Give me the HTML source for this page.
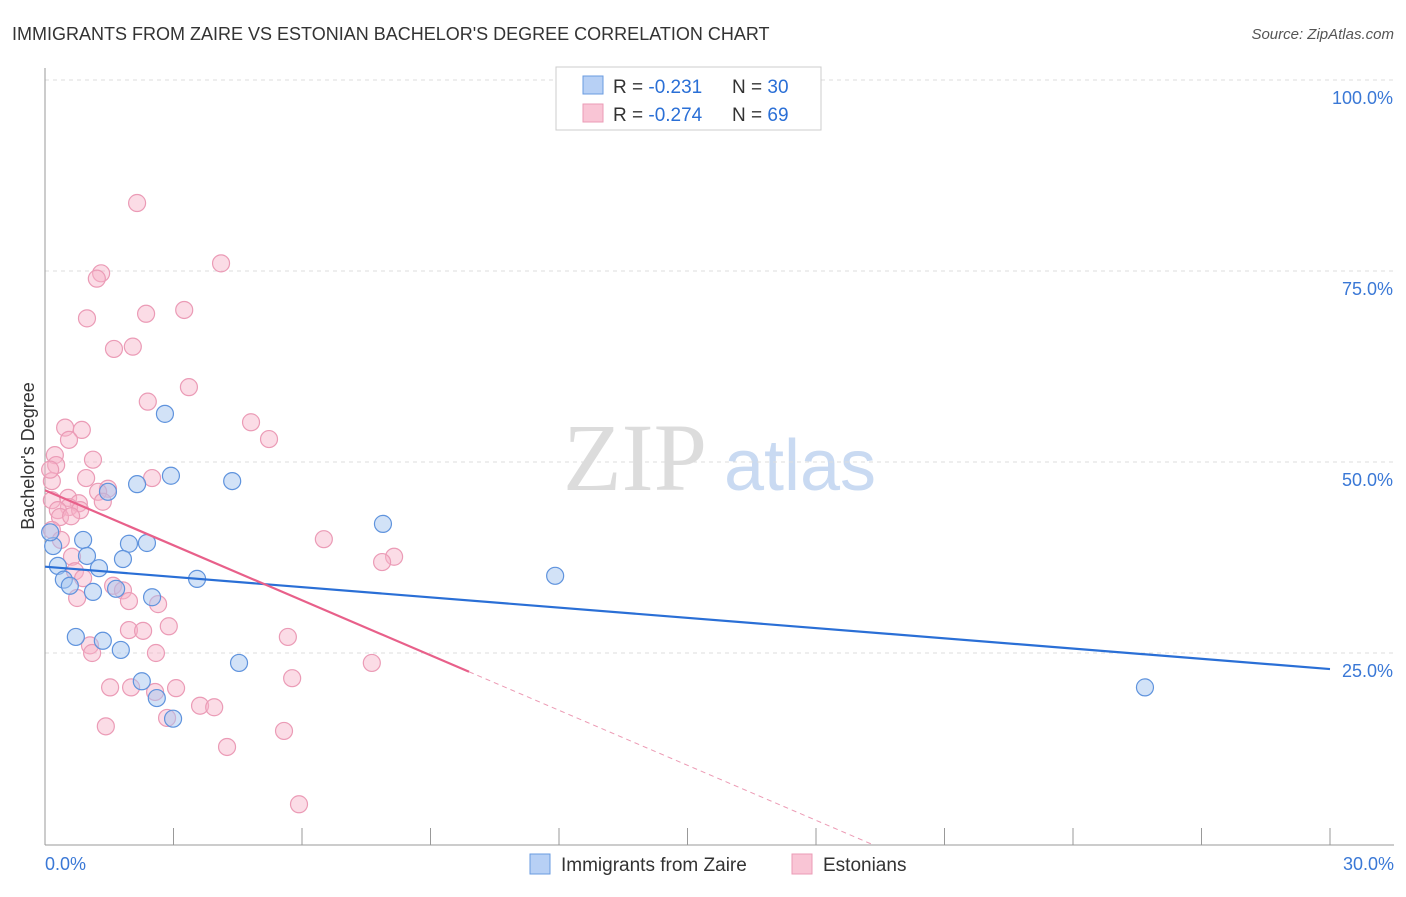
<!DOCTYPE html>
<html><head><meta charset="utf-8"><style>
body{margin:0;background:#fff;font-family:"Liberation Sans",sans-serif;}
#c{position:relative;width:1406px;height:892px;}
</style></head><body>
<div id="c">
<svg id="s" width="1406" height="892" xmlns="http://www.w3.org/2000/svg" font-family="Liberation Sans, sans-serif"></svg>
</div>
<script>
const blueX=[2.80,2.94,4.37,2.15,1.47,7.89,0.89,1.96,2.38,0.19,0.98,1.82,1.26,0.30,0.44,0.58,1.12,1.66,2.50,3.55,11.91,0.72,1.35,1.77,4.53,2.26,2.61,2.99,25.68,0.12];
const blueY=[56.3,48.2,47.5,47.1,46.1,41.9,39.8,39.3,39.4,39.0,37.7,37.3,36.1,36.4,34.6,33.8,33.0,33.4,32.3,34.7,35.1,27.1,26.6,25.4,23.7,21.3,19.1,16.4,20.5,40.8];
const pinkX=[2.15,4.11,1.31,1.21,0.98,2.36,3.25,1.61,2.05,3.36,2.40,4.81,5.23,0.47,0.86,0.56,1.12,0.23,0.26,2.50,0.96,0.16,1.47,1.24,0.54,0.16,0.79,1.35,0.56,0.30,0.82,0.35,0.61,0.16,0.37,0.63,0.70,1.59,0.89,1.82,1.96,2.64,0.75,6.51,8.15,7.87,2.89,1.96,2.29,1.05,1.10,2.59,5.67,7.63,5.77,1.52,2.01,2.57,3.06,3.62,3.95,2.85,1.42,4.25,5.58,5.93,0.12];
const pinkY=[83.9,76.0,74.7,74.0,68.8,69.4,69.9,64.8,65.1,59.8,57.9,55.2,53.0,54.5,54.2,52.9,50.3,50.9,49.6,47.9,47.9,47.5,46.5,46.1,45.3,45.0,44.6,44.8,44.1,43.7,43.7,42.8,42.9,41.1,39.8,37.6,35.7,33.8,34.8,33.2,31.8,31.4,32.2,39.9,37.6,36.9,28.5,28.0,27.9,26.0,25.0,25.0,27.1,23.7,21.7,20.5,20.5,19.9,20.4,18.1,17.9,16.5,15.4,12.7,14.8,5.2,49.0];
const blueTrend=[36.3,22.9];   // y at x=0 and x=30
const pinkTrend=[46.3,-2.4];   // intercept, slope
const yTicks=[25,50,75,100];
const yTickLabels=["25.0%","50.0%","75.0%","100.0%"];
const xTicks=[0,3,6,9,12,15,18,21,24,27,30];

const NS="http://www.w3.org/2000/svg";
const s=document.getElementById('s');
const X=v=>45+v/30*1285;
const Y=v=>844-v/100*764;
function mk(t,a,txt){const e=document.createElementNS(NS,t);for(const k in a)e.setAttribute(k,a[k]);if(txt!==undefined)e.textContent=txt;s.appendChild(e);return e;}

let e;
e=mk('text',{x:12,y:40,'font-size':18,fill:'#333'},"IMMIGRANTS FROM ZAIRE VS ESTONIAN BACHELOR'S DEGREE CORRELATION CHART");

e=mk('text',{x:1394,y:39,'font-size':15,fill:'#555','font-style':'italic','text-anchor':'end'},"Source: ZipAtlas.com");


// watermark
e=mk('text',{x:635,y:490,'font-size':96,fill:'#dcdcdc','font-family':'Liberation Serif, serif','text-anchor':'middle'},"ZIP");

e=mk('text',{x:800,y:490,'font-size':72,fill:'#c9daf2','text-anchor':'middle'},"atlas");


// grid
e=mk('line',{x1:45,y1:Y(100),x2:1394,y2:Y(100),stroke:'#ddd','stroke-dasharray':'4,4'});

yTicks.forEach((t,i)=>{
 const g=mk('line',{x1:45,y1:Y(t),x2:1394,y2:Y(t),stroke:'#ddd','stroke-dasharray':'4,4'});
 
 const l=mk('text',{x:1393,y:Y(t)+24,'font-size':18,fill:'#3a78d6','text-anchor':'end'},yTickLabels[i]);
 
});
// axes
e=mk('line',{x1:45,y1:68,x2:45,y2:845,stroke:'#999'});

e=mk('line',{x1:45,y1:845,x2:1394,y2:845,stroke:'#999'});

xTicks.forEach(t=>{
 const k=mk('line',{x1:X(t),y1:828,x2:X(t),y2:845,stroke:'#999'});
 
});
e=mk('text',{x:45,y:870,'font-size':18,fill:'#3a78d6'},"0.0%");

e=mk('text',{x:1394,y:870,'font-size':18,fill:'#3a78d6','text-anchor':'end'},"30.0%");

e=mk('text',{x:34,y:456,'font-size':18,fill:'#333','text-anchor':'middle',transform:'rotate(-90 34 456)'},"Bachelor's Degree");


// points
pinkX.forEach((v,i)=>{
 const c=mk('circle',{cx:X(v),cy:Y(pinkY[i]),r:8.5,fill:'rgba(246,178,200,0.45)',stroke:'#eb9bb6','stroke-width':1.2});
 
});
blueX.forEach((v,i)=>{
 const c=mk('circle',{cx:X(v),cy:Y(blueY[i]),r:8.5,fill:'rgba(165,198,240,0.5)',stroke:'#5f93dd','stroke-width':1.2});
 
});

// trend lines
e=mk('line',{x1:X(0),y1:Y(blueTrend[0]),x2:X(30),y2:Y(blueTrend[1]),stroke:'#2a6fd6','stroke-width':2.2});

const pEnd=9.9, pZero=-pinkTrend[0]/pinkTrend[1];
e=mk('line',{x1:X(0),y1:Y(pinkTrend[0]),x2:X(pEnd),y2:Y(pinkTrend[0]+pinkTrend[1]*pEnd),stroke:'#e8608a','stroke-width':2.2});

e=mk('line',{x1:X(pEnd),y1:Y(pinkTrend[0]+pinkTrend[1]*pEnd),x2:X(pZero),y2:Y(0),stroke:'#ec9ab4','stroke-width':1,'stroke-dasharray':'5,4'});


// top legend
e=mk('rect',{x:556,y:67,width:265,height:63,fill:'#fff',stroke:'#ccc'});

e=mk('rect',{x:583,y:76,width:20,height:18,fill:'#b7d0f5',stroke:'#6a9be0'});

e=mk('rect',{x:583,y:104,width:20,height:18,fill:'#f9c5d5',stroke:'#eb9bb6'});

[[93,"-0.231","30"],[121,"-0.274","69"]].forEach((r,i)=>{
 const t=mk('text',{x:613,y:r[0],'font-size':19,fill:'#333'});
 
 t.innerHTML='R = <tspan fill="#2a6fd6">'+r[1]+'</tspan><tspan x="732">N = </tspan><tspan fill="#2a6fd6">'+r[2]+'</tspan>';
});

// bottom legend
e=mk('rect',{x:530,y:854,width:20,height:20,fill:'#b7d0f5',stroke:'#6a9be0'});

e=mk('text',{x:561,y:871,'font-size':19,fill:'#333'},"Immigrants from Zaire");

e=mk('rect',{x:792,y:854,width:20,height:20,fill:'#f9c5d5',stroke:'#eb9bb6'});

e=mk('text',{x:823,y:871,'font-size':19,fill:'#333'},"Estonians");

</script>
</body></html>
